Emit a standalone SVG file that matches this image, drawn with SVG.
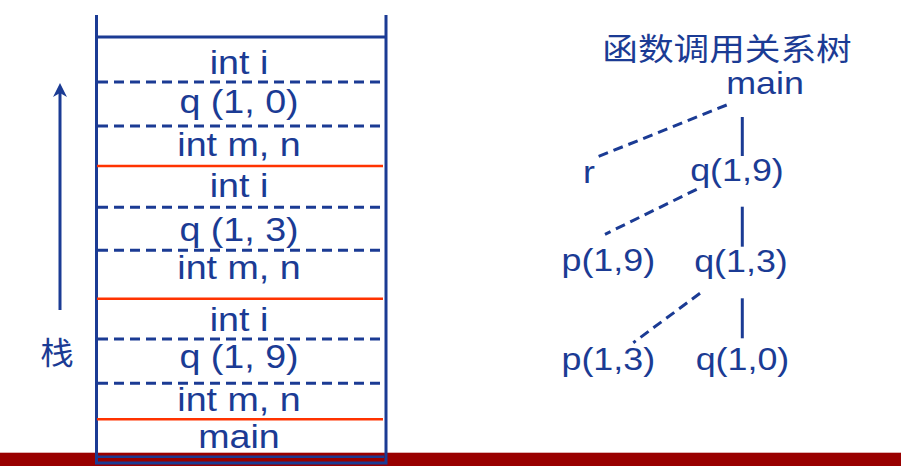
<svg xmlns="http://www.w3.org/2000/svg" width="901" height="466" viewBox="0 0 901 466">
<style>
.t{font-family:"Liberation Sans",Arial,sans-serif;font-size:33px;fill:#1B3B94;text-anchor:middle}
.n{font-family:"Liberation Sans",Arial,sans-serif;font-size:32px;fill:#1B3B94;text-anchor:middle}
.c{font-family:"Noto Sans CJK SC",sans-serif;font-size:31px;fill:#1B3B94;text-anchor:middle}
.frame{stroke:#1B3B94;stroke-width:3;fill:none}
.dash{stroke:#1B3B94;stroke-width:3;stroke-dasharray:10 6;fill:none}
.red{stroke:#FF3300;stroke-width:2.5;fill:none}
.solid{stroke:#1B3B94;stroke-width:3;fill:none}
.tdash{stroke:#1B3B94;stroke-width:3;stroke-dasharray:10 6;fill:none}
</style>
<rect x="0" y="452.7" width="901" height="13.3" fill="#990000"/>
<g id="stack">
<path class="frame" d="M96.5,15 V463 H386 V15 M96.5,37 H386"/>
<line x1="98" y1="456.7" x2="384" y2="456.7" stroke="#1B3B94" stroke-width="2.5"/>
<line class="dash" x1="98" y1="82" x2="384" y2="82"/>
<line class="dash" x1="98" y1="126" x2="384" y2="126"/>
<line class="red" x1="97" y1="166" x2="383" y2="166"/>
<line class="dash" x1="98" y1="207.3" x2="384" y2="207.3"/>
<line class="dash" x1="98" y1="250.3" x2="384" y2="250.3"/>
<line class="red" x1="97" y1="298.7" x2="383" y2="298.7"/>
<line class="dash" x1="98" y1="339" x2="384" y2="339"/>
<line class="dash" x1="98" y1="383.3" x2="384" y2="383.3"/>
<line class="red" x1="97" y1="419.3" x2="383" y2="419.3"/>
<text class="t" transform="translate(239,73.5) scale(1.14,1)">int i</text>
<text class="t" transform="translate(239,112.5) scale(1.14,1)">q (1, 0)</text>
<text class="t" transform="translate(239,156) scale(1.14,1)">int m, n</text>
<text class="t" transform="translate(239,197.3) scale(1.14,1)">int i</text>
<text class="t" transform="translate(239,241) scale(1.14,1)">q (1, 3)</text>
<text class="t" transform="translate(239,279) scale(1.14,1)">int m, n</text>
<text class="t" transform="translate(239,330.7) scale(1.14,1)">int i</text>
<text class="t" transform="translate(239,367.5) scale(1.14,1)">q (1, 9)</text>
<text class="t" transform="translate(239,411.3) scale(1.14,1)">int m, n</text>
<text class="t" transform="translate(239,448) scale(1.14,1)">main</text>
</g>
<g id="stack-arrow">
<line class="solid" x1="60" y1="92" x2="60" y2="310"/>
<path d="M60,83 L67,97 L60,93 L53,97 Z" fill="#1B3B94"/>
<text class="c" transform="translate(57,364) scale(1.08,1)">栈</text>
</g>
<g id="title"><text class="c" transform="translate(727,60) scale(1.15,1)">函数调用关系树</text></g>
<g id="connectors">
<line class="tdash" x1="726.7" y1="105" x2="598" y2="156.7"/>
<line class="solid" x1="742.3" y1="117" x2="742.3" y2="156"/>
<line class="tdash" x1="696.7" y1="189.3" x2="605" y2="234.3"/>
<line class="solid" x1="742.3" y1="206.7" x2="742.3" y2="246.7"/>
<line class="tdash" x1="700" y1="293.3" x2="633.3" y2="342.7"/>
<line class="solid" x1="742.3" y1="298.3" x2="742.3" y2="338.3"/>
</g>
<g id="node-main"><text class="n" transform="translate(765,94) scale(1.12,1)">main</text></g>
<g id="node-r"><text class="n" transform="translate(589,182.7) scale(1.12,1)">r</text></g>
<g id="node-q19"><text class="n" transform="translate(737,181) scale(1.12,1)">q(1,9)</text></g>
<g id="node-p19"><text class="n" transform="translate(608.3,271) scale(1.12,1)">p(1,9)</text></g>
<g id="node-q13"><text class="n" transform="translate(741,271.7) scale(1.12,1)">q(1,3)</text></g>
<g id="node-p13"><text class="n" transform="translate(608.3,370) scale(1.12,1)">p(1,3)</text></g>
<g id="node-q10"><text class="n" transform="translate(742.5,369.5) scale(1.12,1)">q(1,0)</text></g>
</svg>
